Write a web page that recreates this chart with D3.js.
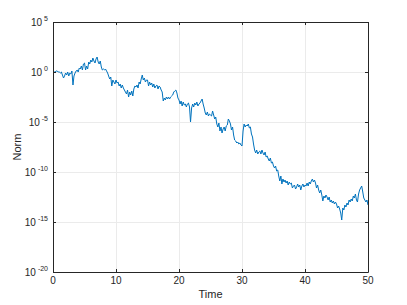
<!DOCTYPE html>
<html>
<head>
<meta charset="utf-8">
<script src="https://cdn.jsdelivr.net/npm/d3@7"></script>
<style>
  body { margin: 0; background: #fff; }
  text { font-family: "Liberation Sans", Arial, sans-serif; fill: #262626; }
</style>
</head>
<body>
<div id="chart"></div>
<script>
// sample times
const times = [
  0,0.17,0.33,0.5,0.67,0.83, 1,1.17,1.33,1.5,1.67,1.83, 2,2.17,2.33,2.5,2.67,2.83,
  3,3.17,3.33,3.5,3.67,3.83, 4,4.17,4.33,4.5,4.67,4.83, 5,5.17,5.33,5.5,5.67,5.83,
  6,6.17,6.33,6.5,6.67,6.83, 7,7.17,7.33,7.5,7.67,7.83, 8,8.17,8.33,8.5,8.67,8.83,
  9,9.17,9.33,9.5,9.67,9.83, 10,10.17,10.33,10.5,10.67,10.83, 11,11.17,11.33,11.5,11.67,11.83,
  12,12.17,12.33,12.5,12.67,12.83, 13,13.17,13.33,13.5,13.67,13.83, 14,14.17,14.33,14.5,14.67,14.83,
  15,15.17,15.33,15.5,15.67,15.83, 16,16.17,16.33,16.5,16.67,16.83, 17,17.17,17.33,17.5,17.67,17.83,
  18,18.17,18.33,18.5,18.67,18.83, 19,19.17,19.33,19.5,19.67,19.83, 20,20.17,20.33,20.5,20.67,20.83,
  21,21.17,21.33,21.5,21.67,21.83, 22,22.17,22.33,22.5,22.67,22.83, 23,23.17,23.33,23.5,23.67,23.83,
  24,24.17,24.33,24.5,24.67,24.83, 25,25.17,25.33,25.5,25.67,25.83, 26,26.17,26.33,26.5,26.67,26.83,
  27,27.17,27.33,27.5,27.67,27.83, 28,28.17,28.33,28.5,28.67,28.83, 29,29.17,29.33,29.5,29.67,29.83,
  30,30.17,30.33,30.5,30.67,30.83, 31,31.17,31.33,31.5,31.67,31.83, 32,32.17,32.33,32.5,32.67,32.83,
  33,33.17,33.33,33.5,33.67,33.83, 34,34.17,34.33,34.5,34.67,34.83, 35,35.17,35.33,35.5,35.67,35.83,
  36,36.17,36.33,36.5,36.67,36.83, 37,37.17,37.33,37.5,37.67,37.83, 38,38.17,38.33,38.5,38.67,38.83,
  39,39.17,39.33,39.5,39.67,39.83, 40,40.17,40.33,40.5,40.67,40.83, 41,41.17,41.33,41.5,41.67,41.83,
  42,42.17,42.33,42.5,42.67,42.83, 43,43.17,43.33,43.5,43.67,43.83, 44,44.17,44.33,44.5,44.67,44.83,
  45,45.17,45.33,45.5,45.67,45.83, 46,46.17,46.33,46.5,46.67,46.83, 47,47.17,47.33,47.5,47.67,47.83,
  48,48.17,48.33,48.5,48.67,48.83, 49,49.17,49.33,49.5,49.67,49.83, 50
]

// log10 of the norm at each sample
const logNorm = [
  0,0,0,0.1,0.1,0,  0,-0.1,0,-0.3,-0.6,-0.4,  -0.1,-0.3,0,-0.4,-0.1,-0.2,
  0.1,-1.3,-0.4,-0.1,0.1,0.2,  0,0.4,0.3,0.6,0.2,0.8,  0.9,0.2,0.6,0.3,1.0,0.8,
  1.2,1.0,1.4,1.1,0.9,1.3,  1.5,1.0,0.8,1.1,0.5,0.2,  0.3,0.2,0.3,0.1,-0.1,-0.4,
  -0.7,-0.5,-1.4,-0.8,-1.0,-1.2,  -0.8,-1.1,-1.0,-1.4,-1.2,-1.6,  -1.3,-1.6,-1.8,-2.0,-2.2,-1.8,
  -2.5,-2.0,-2.3,-1.9,-2.4,-1.7,  -1.4,-1.5,-1.3,-1.6,-1.0,-1.2,  -0.7,-0.3,-0.8,-0.6,-1.0,-0.8,
  -0.8,-1.4,-1.0,-1.3,-1.1,-1.5,  -1.2,-1.6,-1.4,-1.3,-1.7,-1.4,  -1.5,-1.8,-2.0,-2.9,-2.6,-2.8,
  -2.5,-2.7,-2.5,-2.7,-2.5,-2.4,  -2.3,-2.0,-1.9,-1.8,-2.1,-2.6,  -2.8,-3.2,-2.9,-3.4,-3.0,-3.3,
  -3.2,-3.5,-3.2,-3.1,-3.5,-5.0,  -3.6,-3.2,-3.5,-3.1,-3.3,-3.0,  -3.4,-3.2,-3.1,-2.9,-2.7,-3.2,
  -3.6,-4.1,-4.3,-4.0,-4.4,-4.2,  -4.3,-4.4,-3.9,-4.3,-4.7,-4.5,  -5.2,-5.5,-5.1,-5.9,-5.5,-6.1,
  -5.7,-5.5,-5.9,-5.4,-5.3,-4.7,  -4.9,-5.2,-5.8,-5.5,-6.3,-6.8,  -6.9,-7.1,-7.0,-7.2,-7.1,-7.3,
  -7.4,-5.9,-5.2,-5.5,-5.3,-5.4,  -5.2,-5.6,-5.5,-6.2,-6.5,-7.2,  -7.8,-8.1,-7.8,-8.2,-8.0,-7.9,
  -8.2,-7.8,-8.1,-8.3,-8.0,-8.5,  -8.4,-8.7,-8.9,-8.6,-9.1,-9.0,  -9.4,-9.6,-9.4,-9.9,-9.8,-10.4,
  -10.9,-10.4,-11.2,-10.7,-11.0,-10.8,  -11.1,-10.9,-11.3,-11.0,-11.2,-11.1,  -11.6,-11.4,-11.3,-11.7,-11.5,-11.2,
  -11.5,-11.3,-11.8,-11.4,-11.2,-11.5,  -11.3,-11.4,-11.1,-11.4,-11.0,-11.2,  -10.9,-10.7,-11.0,-10.8,-11.1,-11.6,
  -11.3,-11.8,-12.1,-11.8,-12.3,-12.9,  -12.4,-12.6,-12.3,-12.5,-12.8,-12.5,  -13.0,-12.8,-13.1,-12.9,-13.2,-13.0,
  -13.2,-13.6,-13.4,-13.7,-14.1,-14.8,  -13.6,-13.8,-13.3,-13.5,-13.1,-13.3,  -12.8,-13.0,-12.7,-12.9,-12.4,-12.6,
  -12.2,-12.8,-13.0,-12.2,-11.8,-11.6,  -11.4,-12.0,-12.6,-12.8,-13.0,-12.8,  -13.3
]

const xTicks = [0, 10, 20, 30, 40, 50]
const yTickExps = [5, 0, -5, -10, -15, -20]

const width = 407
const height = 305
const margin = { top: 22, left: 53, bottom: 33, right: 39 }
const iwidth = width - margin.left - margin.right
const iheight = height - margin.top - margin.bottom
const axisColor = "#262626"

const svg = d3.select("#chart").append("svg")
  .attr("width", width)
  .attr("height", height)

const g = svg.append("g")
  .attr("transform", `translate(${margin.left}, ${margin.top})`)

const x = d3.scaleLinear().domain([0, 50]).range([0, iwidth])
const y = d3.scaleLog().domain([1e-20, 1e5]).range([iheight, 0])

// grid
g.append("g")
  .selectAll("line")
  .data(xTicks)
  .join("line")
  .attr("x1", d => Math.round(x(d)) + 0.5)
  .attr("x2", d => Math.round(x(d)) + 0.5)
  .attr("y1", 0)
  .attr("y2", iheight)
  .attr("stroke", "#ebebeb")
g.append("g")
  .selectAll("line")
  .data(yTickExps)
  .join("line")
  .attr("y1", d => Math.round(y(10 ** d)) + 0.5)
  .attr("y2", d => Math.round(y(10 ** d)) + 0.5)
  .attr("x1", 0)
  .attr("x2", iwidth)
  .attr("stroke", "#ebebeb")

// data line
const line = d3.line()
  .x((d, i) => x(times[i]))
  .y(d => y(10 ** d))

g.append("path")
  .datum(logNorm)
  .attr("fill", "none")
  .attr("stroke", "#0072BD")
  .attr("stroke-width", 1)
  .attr("stroke-linejoin", "round")
  .attr("d", line)

// axes (box with inward ticks on all sides)
const styleAxis = sel => {
  sel.select(".domain").attr("stroke", axisColor).attr("stroke-width", 1)
  sel.selectAll(".tick line").attr("stroke", axisColor)
  sel.selectAll(".tick text").remove()
}

g.append("g")
  .attr("transform", `translate(0, ${iheight})`)
  .call(d3.axisBottom(x).tickValues(xTicks).tickSize(-3).tickSizeOuter(0))
  .call(styleAxis)
g.append("g")
  .call(d3.axisTop(x).tickValues(xTicks).tickSize(-3).tickSizeOuter(0))
  .call(styleAxis)
g.append("g")
  .call(d3.axisLeft(y).tickValues(yTickExps.map(e => 10 ** e)).tickSize(-3).tickSizeOuter(0))
  .call(styleAxis)
g.append("g")
  .attr("transform", `translate(${iwidth}, 0)`)
  .call(d3.axisRight(y).tickValues(yTickExps.map(e => 10 ** e)).tickSize(-3).tickSizeOuter(0))
  .call(styleAxis)

// x tick labels
g.append("g")
  .selectAll("text")
  .data(xTicks)
  .join("text")
  .attr("x", d => x(d))
  .attr("y", iheight + 12)
  .attr("text-anchor", "middle")
  .attr("font-size", 10)
  .text(d => d)

// y tick labels: 10 with superscript exponent
const ylab = g.append("g")
  .selectAll("text")
  .data(yTickExps)
  .join("text")
  .attr("x", -5)
  .attr("y", d => y(10 ** d) + 4)
  .attr("text-anchor", "end")
  .attr("font-size", 10)
ylab.append("tspan").text("10")
ylab.append("tspan")
  .attr("font-size", 7)
  .attr("dy", -5)
  .text(d => " " + d)

// axis titles
svg.append("text")
  .attr("x", margin.left + iwidth / 2)
  .attr("y", 298)
  .attr("text-anchor", "middle")
  .attr("font-size", 11)
  .text("Time")

svg.append("text")
  .attr("transform", `translate(21, ${margin.top + iheight / 2}) rotate(-90)`)
  .attr("text-anchor", "middle")
  .attr("font-size", 11)
  .text("Norm")
</script>
</body>
</html>
